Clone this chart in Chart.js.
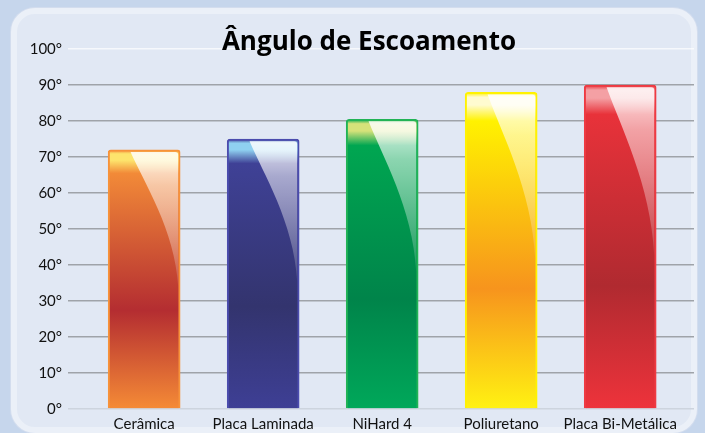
<!DOCTYPE html>
<html>
<head>
<meta charset="utf-8">
<script src="https://cdn.jsdelivr.net/npm/chart.js@4/dist/chart.umd.min.js"></script>
<style>
  html, body { margin: 0; padding: 0; }
  body { width: 705px; height: 433px; background: #c6d6ec; position: relative; overflow: hidden; }
  .panel {
    position: absolute; left: 11px; top: 8px; width: 674px; height: 413px;
    border: 6px solid #ebf0f8; border-radius: 24px; background: #e1e8f4;
    box-shadow: 0 0 0 1px #d3ddee;
  }
  .wrap { position: absolute; left: 10px; top: 0; width: 695px; height: 433px; }
</style>
</head>
<body>
<div class="panel"></div>
<div class="wrap"><canvas id="chart" width="695" height="433"></canvas></div>
<script>
const categories = ['Cerâmica', 'Placa Laminada', 'NiHard 4', 'Poliuretano', 'Placa Bi-Metálica']
const angles = [72, 75, 80.5, 88, 90]
const yTicks = [0, 10, 20, 30, 40, 50, 60, 70, 80, 90, 100]

// colours per bar: border, top band, body top, darkest middle, bottom
const barColors = [
  { border: '#f7923a', band: '#fde46c', top: '#f28a38', mid: '#b42d31', bottom: '#f58b36' },
  { border: '#4b4cae', band: '#8fd0f0', top: '#3f4196', mid: '#33346e', bottom: '#3e3f95' },
  { border: '#22b356', band: '#d6e27a', top: '#00a651', mid: '#00844a', bottom: '#00a85a' },
  { border: '#fff200', band: '#fffbd0', top: '#fff200', mid: '#f7941d', bottom: '#fff212' },
  { border: '#ee3a42', band: '#f4a0a4', top: '#e8323a', mid: '#b02a30', bottom: '#ee333b' }
]

const tickFont = { family: 'Lato', size: 15 }
const yLabel = v => v + '°'

// y labels are mirrored and pulled back left so they are not clipped by the narrow axis box
const measure = document.createElement('canvas').getContext('2d')
measure.font = tickFont.size + 'px ' + tickFont.family
const widestY = Math.max(...yTicks.map(v => measure.measureText(yLabel(v)).width))

function barGradient(ctx) {
  const chart = ctx.chart
  const c = barColors[ctx.dataIndex]
  if (!chart.chartArea) return c.top
  const y = chart.scales.y
  const top = y.getPixelForValue(angles[ctx.dataIndex])
  const base = y.getPixelForValue(0)
  const g = chart.ctx.createLinearGradient(0, top, 0, base)
  g.addColorStop(0, c.top)
  g.addColorStop(0.015, c.band)
  g.addColorStop(0.04, c.band)
  g.addColorStop(0.09, c.top)
  g.addColorStop(0.62, c.mid)
  g.addColorStop(1, c.bottom)
  return g
}

// white glossy highlight on the right side of each bar
const glossPlugin = {
  id: 'gloss',
  afterDatasetsDraw(chart) {
    const ctx = chart.ctx
    chart.getDatasetMeta(0).data.forEach(bar => {
      const { x, y, base, width } = bar.getProps(['x', 'y', 'base', 'width'], true)
      const left = x - width / 2 + 2
      const right = x + width / 2 - 2
      const w = right - left
      const top = y + 2
      const h = base - y
      const sx = left + 0.3 * w
      const endY = top + 0.52 * h
      const g = ctx.createLinearGradient(0, top, 0, endY)
      g.addColorStop(0, 'rgba(255,255,255,0.85)')
      g.addColorStop(0.25, 'rgba(255,255,255,0.55)')
      g.addColorStop(1, 'rgba(255,255,255,0.12)')
      ctx.save()
      ctx.beginPath()
      ctx.moveTo(sx, top)
      ctx.lineTo(right - 3, top)
      ctx.quadraticCurveTo(right, top, right, top + 3)
      ctx.lineTo(right, endY)
      ctx.bezierCurveTo(right - 0.05 * w, top + 0.3 * h, sx + 0.2 * w, top + 0.12 * h, sx, top)
      ctx.closePath()
      ctx.fillStyle = g
      ctx.fill()
      ctx.restore()
    })
  }
}

new Chart(document.getElementById('chart'), {
  type: 'bar',
  data: {
    datasets: [{
      data: angles.map((v, i) => ({ x: i + 1, y: v })),
      backgroundColor: barGradient,
      borderColor: categories.map((c, i) => barColors[i].border),
      borderWidth: 2,
      borderRadius: 3,
      barThickness: 72
    }]
  },
  options: {
    responsive: false,
    animation: false,
    layout: { padding: { left: 34, right: 11, top: 0, bottom: 2 } },
    plugins: {
      legend: { display: false },
      tooltip: { enabled: false },
      title: {
        display: true,
        text: 'Ângulo de Escoamento',
        color: '#000',
        font: { family: 'Open Sans', size: 26, weight: 'bold', lineHeight: 1.2 },
        padding: { top: 27, bottom: -9 }
      }
    },
    scales: {
      x: {
        type: 'linear',
        min: 0.36,
        max: 5.62,
        offset: false,
        grid: { display: false, drawTicks: false },
        border: { display: false },
        afterBuildTicks: scale => { scale.ticks = categories.map((c, i) => ({ value: i + 1 })) },
        afterFit: scale => { scale.height = 22 },
        ticks: {
          autoSkip: false,
          maxRotation: 0,
          padding: 6,
          color: '#111',
          font: tickFont,
          callback: v => categories[v - 1]
        }
      },
      y: {
        min: 0,
        max: 100,
        afterBuildTicks: scale => { scale.ticks = yTicks.map(v => ({ value: v })) },
        afterFit: scale => { scale.width = 24 },
        border: { display: false },
        grid: {
          drawTicks: false,
          lineWidth: 1.5,
          color: c => c.tick.value === 100 ? 'rgba(255,255,255,0.7)' : c.tick.value === 0 ? '#cdd4de' : '#9fa3a9'
        },
        ticks: {
          autoSkip: false,
          mirror: true,
          crossAlign: 'far',
          padding: -(6 + widestY),
          color: '#111',
          font: tickFont,
          callback: yLabel
        }
      }
    }
  },
  plugins: [glossPlugin]
})
</script>
</body>
</html>
